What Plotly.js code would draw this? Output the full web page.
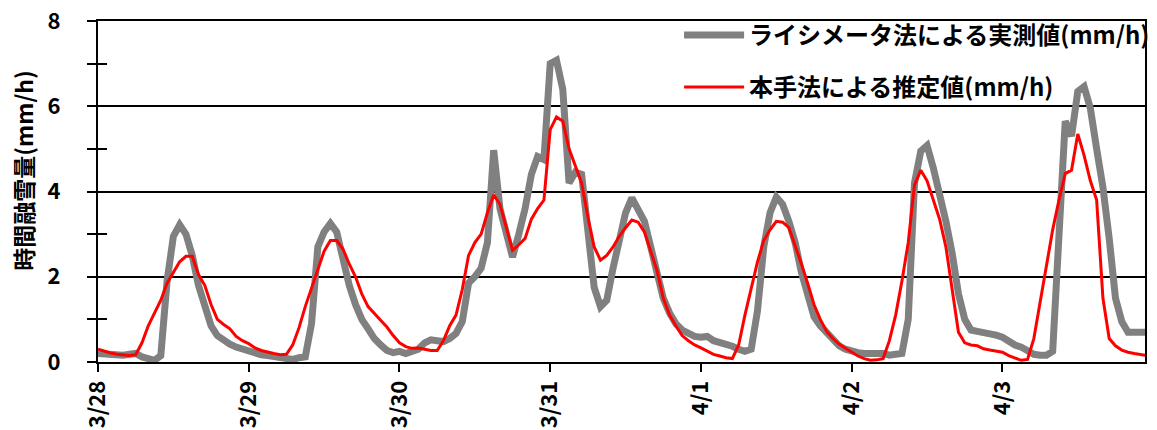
<!DOCTYPE html>
<html>
<head>
<meta charset="utf-8">
<script src="https://cdn.plot.ly/plotly-3.0.1.min.js"></script>
<style>
  html, body { margin: 0; padding: 0; background: #fff; }
  #chart { width: 1157px; height: 430px; }
</style>
</head>
<body>
<div id="chart"></div>
<script>
// Hourly snowmelt (mm/h), 3/28 00:00 through 4/3 23:00
const measured = [
  0.2, 0.18, 0.16, 0.15, 0.16, 0.18, 0.2, 0.12, 0.06, 0.04, 0.15, 1.9,
  2.95, 3.22, 3.0, 2.5, 1.8, 1.25, 0.85, 0.62, 0.5, 0.42, 0.35, 0.3,
  0.25, 0.2, 0.17, 0.15, 0.13, 0.1, 0.08, 0.06, 0.1, 0.12, 0.9, 2.7,
  3.05, 3.25, 3.05, 2.4, 1.8, 1.35, 1.0, 0.78, 0.55, 0.4, 0.27, 0.22,
  0.25, 0.2, 0.25, 0.3, 0.45, 0.52, 0.5, 0.48, 0.55, 0.67, 0.95, 1.85,
  2.0, 2.2, 2.8, 4.97, 3.6, 3.0, 2.46, 3.0, 3.6, 4.4, 4.82, 4.75,
  7.0, 7.08, 6.4, 4.2, 4.45, 4.4, 2.9, 1.75, 1.3, 1.45, 2.2, 2.9,
  3.5, 3.85, 3.6, 3.3, 2.7, 2.1, 1.5, 1.15, 0.9, 0.75, 0.67, 0.6,
  0.58, 0.6, 0.5, 0.47, 0.43, 0.37, 0.3, 0.25, 0.3, 1.2, 2.7, 3.5,
  3.87, 3.7, 3.3, 2.8, 2.1, 1.5, 1.06, 0.85, 0.68, 0.5, 0.38, 0.3,
  0.25, 0.22, 0.2, 0.18, 0.2, 0.2, 0.16, 0.18, 0.2, 1.0, 4.2, 4.95,
  5.08, 4.55, 4.0, 3.3, 2.55, 1.6, 1.0, 0.75, 0.72, 0.7, 0.67, 0.63,
  0.58, 0.48, 0.4, 0.35, 0.25, 0.18, 0.16, 0.16, 0.25, 2.8, 5.65, 5.3,
  6.35, 6.46, 5.95, 5.0, 4.1, 2.9, 1.5, 0.95, 0.7, 0.7, 0.7, 0.7
];
const estimated = [
  0.3, 0.25, 0.21, 0.18, 0.16, 0.15, 0.17, 0.45, 0.85, 1.15, 1.45, 1.85,
  2.1, 2.35, 2.48, 2.48, 2.05, 1.8, 1.35, 1.0, 0.88, 0.78, 0.6, 0.5,
  0.43, 0.33, 0.27, 0.23, 0.2, 0.17, 0.18, 0.4, 0.8, 1.3, 1.75, 2.15,
  2.6, 2.85, 2.85, 2.65, 2.3, 2.0, 1.6, 1.3, 1.15, 0.98, 0.82, 0.62,
  0.45, 0.36, 0.32, 0.33, 0.3, 0.27, 0.27, 0.5, 0.85, 1.1, 1.7, 2.5,
  2.8, 3.0, 3.5, 3.92, 3.7, 3.15, 2.62, 2.75, 2.9, 3.35, 3.6, 3.8,
  5.45, 5.75, 5.65, 5.0, 4.6, 4.2, 3.4, 2.7, 2.39, 2.5, 2.7, 2.95,
  3.15, 3.33, 3.28, 3.05, 2.6, 2.15, 1.5, 1.1, 0.85, 0.62, 0.5, 0.4,
  0.33, 0.25, 0.18, 0.14, 0.1, 0.08, 0.4, 1.1, 1.75, 2.35, 2.85, 3.1,
  3.3, 3.28, 3.15, 2.75, 2.3, 1.84, 1.35, 1.0, 0.72, 0.55, 0.42, 0.32,
  0.22, 0.14, 0.08, 0.04, 0.05, 0.08, 0.5, 1.1, 1.9, 2.8, 4.15, 4.5,
  4.25, 3.8, 3.35, 2.7, 1.7, 0.7, 0.45, 0.4, 0.38, 0.31, 0.28, 0.26,
  0.23, 0.15, 0.1, 0.04, 0.06, 0.55, 1.4, 2.3, 3.1, 3.8, 4.42, 4.5,
  5.35, 4.85, 4.25, 3.8, 1.5, 0.55, 0.38, 0.28, 0.23, 0.2, 0.17, 0.15
];
const dayTickHours = [0, 24, 48, 72, 96, 120, 144];
const dayTickLabels = ['3/28', '3/29', '3/30', '3/31', '4/1', '4/2', '4/3'];
const seriesNames = ['ライシメータ法による実測値(mm/h)', '本手法による推定値(mm/h)'];
const yTitle = '時間融雪量(mm/h)';

const hours = measured.map((_, i) => i);
const FONT = '"Noto Sans CJK JP", "Noto Sans", sans-serif';

const traces = [
  {
    x: hours, y: measured, name: seriesNames[0], legendgroup: 'm',
    type: 'scatter', mode: 'lines',
    line: { color: '#808080', width: 7 }
  },
  {
    // drawn on the overlaid axis so it sits above the measured line
    x: hours, y: estimated, name: seriesNames[1], legendgroup: 'e',
    type: 'scatter', mode: 'lines', yaxis: 'y2',
    line: { color: '#ff0000', width: 3 }
  }
];

const layout = {
  width: 1157, height: 430,
  margin: { l: 98, r: 2, t: 21, b: 68, pad: 0 },
  paper_bgcolor: '#fff', plot_bgcolor: '#fff',
  font: { family: FONT, color: '#000', size: 20, weight: 'bold' },
  showlegend: true,
  legend: {
    x: 0.555, y: 1.024, xanchor: 'left', yanchor: 'top',
    bgcolor: 'rgba(0,0,0,0)', borderwidth: 0,
    font: { family: FONT, size: 24, weight: 'bold', color: '#000' },
    itemwidth: 60, tracegroupgap: 18, traceorder: 'grouped'
  },
  xaxis: {
    range: [0, 166.7],
    tickmode: 'array', tickvals: dayTickHours, ticktext: dayTickLabels,
    tickangle: -90, ticks: 'outside', ticklen: 8, tickwidth: 2, tickcolor: '#000',
    showline: true, linecolor: '#000', linewidth: 2, mirror: true,
    showgrid: false, zeroline: false,
    tickfont: { family: FONT, size: 22, weight: 'bold', color: '#000' }
  },
  yaxis: {
    range: [0, 8], tick0: 0, dtick: 2,
    ticks: 'outside', ticklen: 9, tickwidth: 2, tickcolor: '#000',
    minor: { dtick: 1, ticks: 'outside', ticklen: 9, tickwidth: 2, tickcolor: '#000', showgrid: false },
    showline: true, linecolor: '#000', linewidth: 2, mirror: true,
    showgrid: true, gridcolor: '#000', gridwidth: 2, zeroline: false,
    ticklabelstandoff: 22,
    tickfont: { family: FONT, size: 22, weight: 'bold', color: '#000' }
  },
  yaxis2: {
    overlaying: 'y', anchor: 'x', side: 'left',
    range: [0, 8], tick0: 0, dtick: 1,
    ticks: 'inside', ticklen: 9, tickwidth: 2, tickcolor: '#000',
    showticklabels: false, showgrid: false, zeroline: false, showline: false
  },
  annotations: [{
    text: yTitle, textangle: -90,
    xref: 'paper', yref: 'paper', x: -0.072, y: 0.56,
    xanchor: 'center', yanchor: 'middle', showarrow: false,
    font: { family: FONT, size: 23, weight: 'bold', color: '#000' }
  }]
};

Plotly.newPlot('chart', traces, layout, { displayModeBar: false, staticPlot: true });
</script>
</body>
</html>
